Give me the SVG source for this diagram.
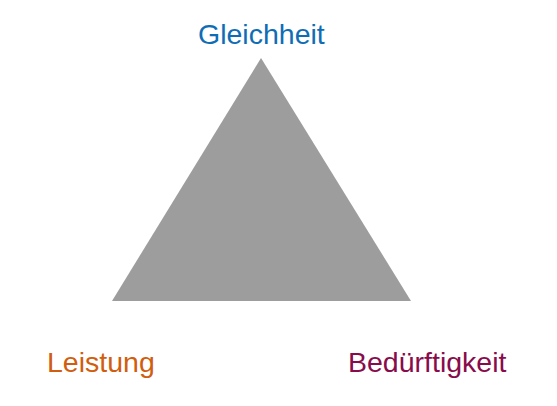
<svg xmlns="http://www.w3.org/2000/svg" width="557" height="406" viewBox="0 0 557 406">
<style>
text{font-family:"Liberation Sans",Arial,sans-serif;font-size:28.5px}
</style>
<rect width="557" height="406" fill="#ffffff"/>
<g id="triangle"><polygon points="261,58 112,301 411,301" fill="#9d9d9d"/></g>
<g id="gleichheit"><text x="198" y="44" fill="#0f6db5">Gleichheit</text></g>
<g id="leistung"><text x="47" y="372" fill="#d05e0e">Leistung</text></g>
<g id="beduerftigkeit"><text x="348" y="372" fill="#880c4c">Bedürftigkeit</text></g>
</svg>
